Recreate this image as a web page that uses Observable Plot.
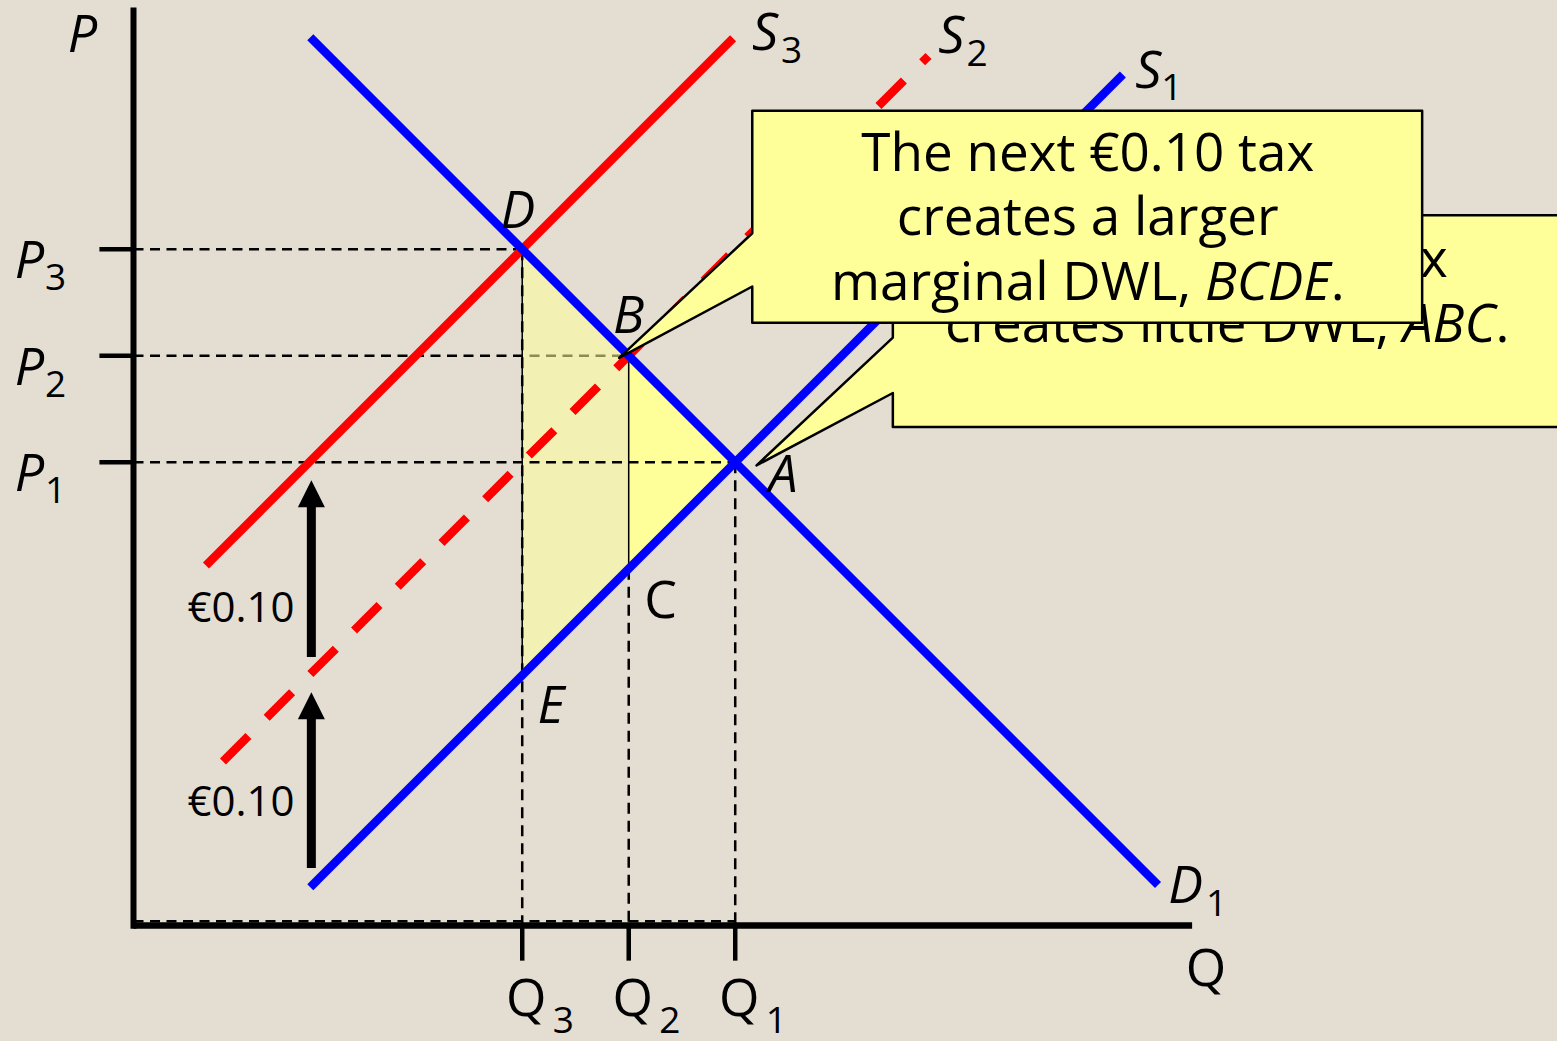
<!DOCTYPE html>
<html><head><meta charset="utf-8">
<script src="https://cdn.jsdelivr.net/npm/d3@7"></script>
<script src="https://cdn.jsdelivr.net/npm/@observablehq/plot@0.6"></script>
<style>
html,body{margin:0;padding:0;background:#e3ddd2;overflow:hidden;}
#chart svg{display:block;}
</style></head><body><div id="chart"></div>
<script>
// ---------- data (chart units: a €0.10 tax shifts supply by 2 price units) ----------
const points = [
  {name: "A", q: 5.65, p: 4.35},
  {name: "B", q: 4.65, p: 5.35},
  {name: "C", q: 4.65, p: 3.35},
  {name: "D", q: 3.65, p: 6.35},
  {name: "E", q: 3.65, p: 2.35}
];
const priceTicks = [
  {name: "P", sub: "3", p: 6.35},
  {name: "P", sub: "2", p: 5.35},
  {name: "P", sub: "1", p: 4.35}
];
const quantityTicks = [
  {name: "Q", sub: "3", q: 3.65},
  {name: "Q", sub: "2", q: 4.65},
  {name: "Q", sub: "1", q: 5.65}
];
const demand1 = [{q: 1.66, p: 8.34}, {q: 9.62, p: 0.38}];
const supply1 = [{q: 1.66, p: 0.36}, {q: 9.29, p: 7.99}];
const supply2 = [{q: 0.84, p: 1.54}, {q: 7.465, p: 8.165}];
const supply3 = [{q: 0.68, p: 3.38}, {q: 5.63, p: 8.33}];
const curveNames = [
  {name: "S", sub: "3", q: 5.93, p: 8.22, sq: 6.18, sp: 8.10},
  {name: "S", sub: "2", q: 7.68, p: 8.19, sq: 7.92, sp: 8.07},
  {name: "S", sub: "1", q: 9.53, p: 7.86, sq: 9.75, sp: 7.75},
  {name: "D", sub: "1", q: 9.88, p: 0.21, sq: 10.17, sp: 0.09}
];
const pointLabels = [
  {name: "D", q: 3.61, p: 6.55},
  {name: "B", q: 4.65, p: 5.56},
  {name: "A", q: 6.10, p: 4.07},
  {name: "C", q: 4.95, p: 2.89},
  {name: "E", q: 3.92, p: 1.90}
];
const taxArrows = [
  {label: "€0.10", q: 1.67, from: 0.54, to: 2.19, lq: 1.01, lp: 1.03},
  {label: "€0.10", q: 1.67, from: 2.52, to: 4.18, lq: 1.01, lp: 2.85}
];
const axisTitles = [
  {name: "P", q: -0.48, p: 8.20},
  {name: "Q", q: 10.07, p: -0.57}
];
const axisExtent = {qMax: 9.94, pMax: 8.62};
const callouts = [
  {text: "The first €0.10 tax\ncreates little DWL, ABC.", q: 10.27, p: 5.48,
   shape: [{q: 7.13, p: 6.67}, {q: 13.42, p: 6.67}, {q: 13.42, p: 4.68}, {q: 7.13, p: 4.68},
           {q: 7.13, p: 5.00}, {q: 5.85, p: 4.32}, {q: 7.13, p: 5.52}]},
  {text: "The next €0.10 tax\ncreates a larger\nmarginal DWL, BCDE.", q: 8.96, p: 5.875,
   shape: [{q: 5.81, p: 7.65}, {q: 12.10, p: 7.65}, {q: 12.10, p: 5.66}, {q: 5.81, p: 5.66},
           {q: 5.81, p: 6.00}, {q: 4.56, p: 5.33}, {q: 5.81, p: 6.50}]}
];

// ---------- derived ----------
const pt = Object.fromEntries(points.map(d => [d.name, d]));
const dwlABC = [pt.A, pt.B, pt.C];
const dwlBCDE = [pt.D, pt.B, pt.C, pt.E];
const hGuides = [pt.D, pt.B, pt.A].map(d => ({x1: 0, x2: d.q, y: d.p, name: d.name}));
const vGuides = [pt.D, pt.C, pt.A].map(d => ({x: d.q, y1: d.p, y2: 0}));
const baseGuide = [{x1: 0, x2: pt.A.q, y: 0.04}];
const uprightNames = new Set(["C", "Q"]);

const FONT = "Open Sans";
const BLUE = "#0000ff", RED = "#ff0000", YELLOW = "#ffff99";
const dash = "10,6.5";

const arrowHead = {
  draw(context, size) {
    const r = Math.sqrt(size / Math.PI);
    context.moveTo(0, 0);
    context.lineTo(r, 2 * r);
    context.lineTo(-r, 2 * r);
    context.closePath();
  }
};

const txt = (data, o) => Plot.text(data, {fontFamily: FONT, fill: "black", lineAnchor: "bottom", ...o});

const chart = Plot.plot({
  width: 1557,
  height: 1041,
  margin: 0,
  style: {background: "#e3ddd2"},
  x: {domain: [0, 10], range: [133, 1198], axis: null},
  y: {domain: [0, 9], range: [925, -33.5], axis: null},
  marks: [
    // P2 guide sits beneath the translucent BCDE shading
    Plot.link(hGuides.filter(d => d.name === "B"), {x1: "x1", x2: "x2", y1: "y", y2: "y", stroke: "black", strokeWidth: 2.5, strokeDasharray: dash}),
    Plot.line(dwlBCDE, {x: "q", y: "p", curve: "linear-closed", fill: YELLOW, fillOpacity: 0.55, stroke: "black", strokeWidth: 1.5}),
    Plot.line(dwlABC, {x: "q", y: "p", curve: "linear-closed", fill: YELLOW, stroke: "black", strokeWidth: 1.5}),
    Plot.link(hGuides.filter(d => d.name !== "B"), {x1: "x1", x2: "x2", y1: "y", y2: "y", stroke: "black", strokeWidth: 2.5, strokeDasharray: dash}),
    Plot.link(vGuides, {x1: "x", x2: "x", y1: "y1", y2: "y2", stroke: "black", strokeWidth: 2.5, strokeDasharray: "11,7"}),
    Plot.link(baseGuide, {x1: "x1", x2: "x2", y1: "y", y2: "y", stroke: "black", strokeWidth: 2.5, strokeDasharray: dash}),
    // supply & demand
    Plot.line(supply3, {x: "q", y: "p", stroke: RED, strokeWidth: 8.5, strokeLinecap: "butt"}),
    Plot.line(supply2, {x: "q", y: "p", stroke: RED, strokeWidth: 8.5, strokeLinecap: "butt", strokeDasharray: "36,25.8"}),
    Plot.line(supply1, {x: "q", y: "p", stroke: BLUE, strokeWidth: 8.5, strokeLinecap: "butt"}),
    Plot.line(demand1, {x: "q", y: "p", stroke: BLUE, strokeWidth: 8.5, strokeLinecap: "butt"}),
    // axes
    Plot.link([{q: 0}], {x1: "q", x2: "q", y1: -0.03, y2: axisExtent.pMax, stroke: "black", strokeWidth: 6}),
    Plot.link([{p: 0}], {x1: 0, x2: axisExtent.qMax, y1: "p", y2: "p", stroke: "black", strokeWidth: 6.5}),
    Plot.link(priceTicks, {x1: -0.32, x2: 0, y1: "p", y2: "p", stroke: "black", strokeWidth: 4.5}),
    Plot.link(quantityTicks, {x1: "q", x2: "q", y1: 0, y2: -0.33, stroke: "black", strokeWidth: 4.5}),
    // tax arrows
    Plot.link(taxArrows, {x1: "q", x2: "q", y1: "from", y2: d => d.to - 0.2, stroke: "black", strokeWidth: 9}),
    Plot.dot(taxArrows, {x: "q", y: "to", r: 13.5, symbol: arrowHead, fill: "black", stroke: "none"}),
    txt(taxArrows, {x: "lq", y: "lp", text: "label", fontSize: 42}),
    // axis titles
    txt(axisTitles.filter(d => !uprightNames.has(d.name)), {x: "q", y: "p", text: "name", fontSize: 52, fontStyle: "italic"}),
    txt(axisTitles.filter(d => uprightNames.has(d.name)), {x: "q", y: "p", text: "name", fontSize: 52}),
    // tick labels
    txt(priceTicks, {x: () => 0, y: "p", text: "name", fontSize: 52, fontStyle: "italic", dx: -104, dy: 29}),
    txt(priceTicks, {x: () => 0, y: "p", text: "sub", fontSize: 37, dx: -78, dy: 41}),
    txt(quantityTicks, {x: "q", y: () => 0, text: "name", fontSize: 52, dx: 4, dy: 90}),
    txt(quantityTicks, {x: "q", y: () => 0, text: "sub", fontSize: 37, dx: 41, dy: 107}),
    // curve names
    txt(curveNames, {x: "q", y: "p", text: "name", fontSize: 52, fontStyle: "italic"}),
    txt(curveNames, {x: "sq", y: "sp", text: "sub", fontSize: 37}),
    // point labels
    txt(pointLabels.filter(d => !uprightNames.has(d.name)), {x: "q", y: "p", text: "name", fontSize: 52, fontStyle: "italic"}),
    txt(pointLabels.filter(d => uprightNames.has(d.name)), {x: "q", y: "p", text: "name", fontSize: 52}),
    // callouts (back first, then front)
    ...callouts.flatMap(c => [
      Plot.line(c.shape, {x: "q", y: "p", curve: "linear-closed", fill: YELLOW, stroke: "black", strokeWidth: 2.5}),
      txt([c], {x: "q", y: "p", text: "text", fontSize: 53, lineHeight: 1.215})
    ])
  ]
});

// italicise the point names inside the callout sentences
function italicise(root, words) {
  const walker = document.createTreeWalker(root, NodeFilter.SHOW_TEXT);
  const nodes = [];
  while (walker.nextNode()) nodes.push(walker.currentNode);
  for (const node of nodes) {
    for (const w of words) {
      const s = node.nodeValue;
      const i = s.indexOf(w);
      if (i < 0 || !/DWL/.test(s)) continue;
      const parent = node.parentNode;
      const ns = "http://www.w3.org/2000/svg";
      const it = document.createElementNS(ns, "tspan");
      it.setAttribute("font-style", "italic");
      it.textContent = w;
      parent.insertBefore(document.createTextNode(s.slice(0, i)), node);
      parent.insertBefore(it, node);
      node.nodeValue = s.slice(i + w.length);
      break;
    }
  }
}
italicise(chart, ["BCDE", "ABC"]);
document.getElementById("chart").appendChild(chart);
</script></body></html>
